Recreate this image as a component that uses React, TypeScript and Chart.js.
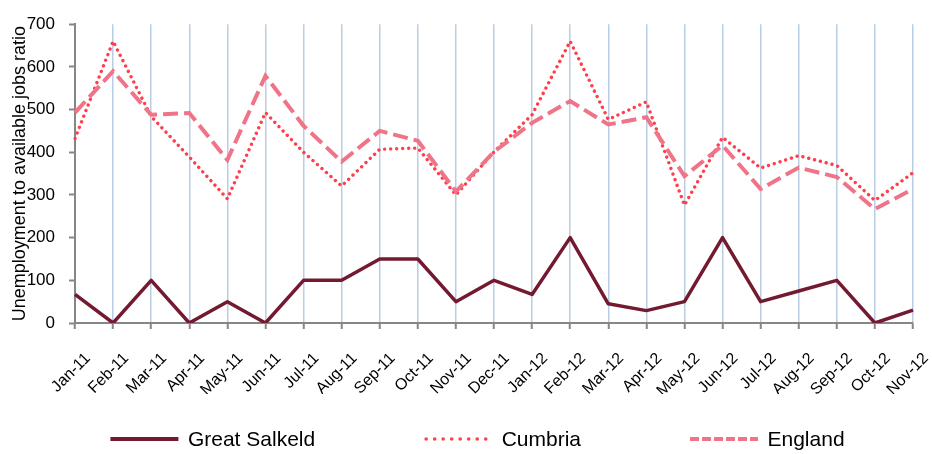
import React, { useEffect, useRef } from "react";
import { Chart, registerables } from "chart.js";

Chart.register(...registerables);

const months = [
  "Jan-11", "Feb-11", "Mar-11", "Apr-11", "May-11", "Jun-11", "Jul-11", "Aug-11",
  "Sep-11", "Oct-11", "Nov-11", "Dec-11", "Jan-12", "Feb-12", "Mar-12", "Apr-12",
  "May-12", "Jun-12", "Jul-12", "Aug-12", "Sep-12", "Oct-12", "Nov-12",
];
const greatSalkeld = [67, 0, 100, 0, 50, 0, 100, 100, 150, 150, 50, 100, 67, 200, 45, 29, 50, 200, 50, 75, 100, 0, 30];
const cumbria = [432, 660, 484, 389, 291, 493, 400, 321, 407, 410, 300, 401, 488, 660, 477, 518, 276, 435, 363, 392, 369, 287, 352];
const england = [493, 590, 488, 492, 382, 579, 462, 378, 450, 427, 308, 401, 469, 520, 465, 482, 344, 416, 314, 364, 342, 267, 314];
const seriesNames = ["Great Salkeld", "Cumbria", "England"];
const yMin = 0;
const yMax = 700;
const yStep = 100;
const yTitle = "Unemployment to available jobs ratio";

const FONT = '"Liberation Sans", Arial, sans-serif';

const legendStyles = [
  { color: "#741A30", width: 4, dash: [] as number[], cap: "butt" },
  { color: "#FF3D4B", width: 3.6, dash: [0.01, 8.5], cap: "round" },
  { color: "#F07488", width: 4, dash: [9, 3], cap: "butt" },
];

const legendPlugin = {
  id: "customLegend",
  afterDraw(chart: any) {
    const ctx = chart.ctx as CanvasRenderingContext2D;
    const ds = chart.data.datasets;
    ctx.save();
    ctx.font = `21px ${FONT}`;
    const boxW = 68;
    const textGap = 9.5;
    const gap = 109;
    const widths = ds.map((d: any) => boxW + textGap + ctx.measureText(d.label).width);
    const total = widths.reduce((a: number, b: number) => a + b, 0) + gap * (ds.length - 1);
    let x = (chart.width - total) / 2 + 11.5;
    const y = chart.height - 15;
    ds.forEach((d: any, i: number) => {
      const st = legendStyles[i];
      ctx.beginPath();
      ctx.strokeStyle = st.color;
      ctx.lineWidth = st.width;
      ctx.setLineDash(st.dash);
      ctx.lineCap = st.cap as CanvasLineCap;
      const inset = st.cap === "round" ? 2 : 0;
      ctx.moveTo(x + inset, y);
      ctx.lineTo(x + boxW - inset, y);
      ctx.stroke();
      ctx.setLineDash([]);
      ctx.fillStyle = "#000";
      ctx.textBaseline = "middle";
      ctx.textAlign = "left";
      ctx.fillText(d.label, x + boxW + textGap, y + 1);
      x += widths[i] + gap;
    });
    ctx.restore();
  },
};

export default function App() {
  const ref = useRef<HTMLCanvasElement | null>(null);

  useEffect(() => {
    if (!ref.current) return;
    Chart.defaults.font.family = FONT;
    const chart = new Chart(ref.current, {
      type: "line",
      data: {
        labels: months,
        datasets: [
          {
            label: seriesNames[0],
            data: greatSalkeld,
            borderColor: "#741A30",
            backgroundColor: "#741A30",
            borderWidth: 3.5,
            pointRadius: 0,
            tension: 0,
            borderJoinStyle: "round",
            order: 1,
          },
          {
            label: seriesNames[1],
            data: cumbria,
            borderColor: "#FF3D4B",
            backgroundColor: "#FF3D4B",
            borderWidth: 3.4,
            borderDash: [0.01, 6],
            borderCapStyle: "round",
            pointRadius: 0,
            tension: 0,
            order: 3,
          },
          {
            label: seriesNames[2],
            data: england,
            borderColor: "#F07488",
            backgroundColor: "#F07488",
            borderWidth: 4,
            borderDash: [15, 6],
            pointRadius: 0,
            tension: 0,
            order: 2,
          },
        ],
      },
      options: {
        animation: false,
        responsive: false,
        maintainAspectRatio: false,
        layout: { padding: { top: 15, right: 19, bottom: 60, left: 0 } },
        plugins: {
          legend: { display: false },
          tooltip: { enabled: false },
        },
        scales: {
          x: {
            offset: false,
            grid: {
              color: "#B9CDE5",
              lineWidth: 1.5,
              drawTicks: true,
              tickLength: 6,
              tickColor: "#868686",
              tickWidth: 2,
            },
            border: { color: "#868686", width: 2 },
            ticks: {
              minRotation: 45,
              maxRotation: 45,
              autoSkip: false,
              color: "#000",
              font: { size: 16, family: FONT },
              padding: 20,
              labelOffset: 13,
            },
            afterFit: (scale: any) => {
              scale.height = 71;
              scale.paddingLeft = 0;
              scale.paddingRight = 0;
            },
          },
          y: {
            min: yMin,
            max: yMax,
            grid: {
              drawOnChartArea: false,
              drawTicks: true,
              tickLength: 6,
              tickColor: "#868686",
              tickWidth: 2,
            },
            border: { color: "#868686", width: 2 },
            ticks: {
              stepSize: yStep,
              color: "#000",
              font: { size: 17, family: FONT },
              padding: 14,
            },
            title: {
              display: true,
              text: yTitle,
              color: "#000",
              font: { size: 18, family: FONT },
              padding: { top: 9, bottom: 0 },
            },
            afterFit: (scale: any) => {
              scale.width = 75;
            },
          },
        },
      },
      plugins: [legendPlugin],
    });
    return () => chart.destroy();
  }, []);

  return (
    <div style={{ position: "absolute", left: 0, top: 0, width: 932, height: 454, background: "#fff" }}>
      <canvas ref={ref} width={932} height={454} style={{ display: "block" }} />
    </div>
  );
}
